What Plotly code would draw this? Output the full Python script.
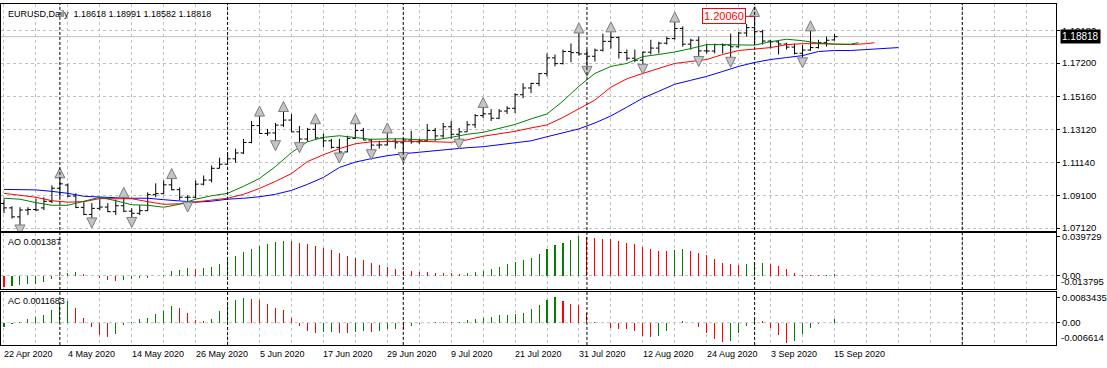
import plotly.graph_objects as go

W, H = 1107, 368

# ---------------- data ----------------
label_idx = [0, 8, 16, 24, 32, 40, 48, 56, 64, 72, 80, 88, 96, 104]
label_text = ["22 Apr 2020", "4 May 2020", "14 May 2020", "26 May 2020", "5 Jun 2020",
              "17 Jun 2020", "29 Jun 2020", "9 Jul 2020", "21 Jul 2020", "31 Jul 2020",
              "12 Aug 2020", "24 Aug 2020", "3 Sep 2020", "15 Sep 2020"]
grid_idx = list(range(0, 132, 4))
sep_idx = [7, 28, 50, 73, 94, 120]

price_ticks = [1.07120, 1.09100, 1.11140, 1.13120, 1.15160, 1.17200, 1.19180]

opens = [1.0862, 1.0835, 1.0780, 1.0822, 1.0825, 1.0835, 1.0875, 1.0955, 1.0975, 1.0907,
         1.0838, 1.0795, 1.0832, 1.0840, 1.0812, 1.0848, 1.0815, 1.0802, 1.0818, 1.0916,
         1.0922, 1.0976, 1.0946, 1.0900, 1.0900, 1.0980, 1.1005, 1.1077, 1.1102, 1.1135,
         1.1171, 1.1235, 1.1338, 1.1290, 1.1293, 1.1341, 1.1372, 1.1300, 1.1256, 1.1315,
         1.1263, 1.1245, 1.1205, 1.1177, 1.1260, 1.1308, 1.1250, 1.1219, 1.1220, 1.1243,
         1.1233, 1.1250, 1.1239, 1.1245, 1.1308, 1.1275, 1.1331, 1.1285, 1.1300, 1.1343,
         1.1399, 1.1410, 1.1383, 1.1427, 1.1444, 1.1527, 1.1568, 1.1596, 1.1656, 1.1752,
         1.1717, 1.1791, 1.1784, 1.1776, 1.1762, 1.1799, 1.1853, 1.1877, 1.1785, 1.1750,
         1.1738, 1.1787, 1.1812, 1.1842, 1.1870, 1.1932, 1.1836, 1.1860, 1.1795, 1.1794,
         1.1834, 1.1830, 1.1820, 1.1904, 1.1937, 1.1912, 1.1855, 1.1850, 1.1837, 1.1818,
         1.1780, 1.1800, 1.1815, 1.1845, 1.18618]
highs = [1.0888, 1.0845, 1.0839, 1.0839, 1.0892, 1.0900, 1.0973, 1.1019, 1.0985, 1.0924,
         1.0870, 1.0864, 1.0892, 1.0864, 1.0886, 1.0900, 1.0833, 1.0851, 1.0930, 1.0985,
         1.1003, 1.1015, 1.0960, 1.0912, 1.1003, 1.1033, 1.1094, 1.1142, 1.1173, 1.1197,
         1.1257, 1.1366, 1.1397, 1.1318, 1.1354, 1.1425, 1.1409, 1.1336, 1.1324, 1.1350,
         1.1290, 1.1257, 1.1257, 1.1276, 1.1350, 1.1324, 1.1257, 1.1245, 1.1294, 1.1260,
         1.1257, 1.1306, 1.1257, 1.1348, 1.1324, 1.1354, 1.1366, 1.1324, 1.1366, 1.1409,
         1.1450, 1.1439, 1.1439, 1.1457, 1.1536, 1.1597, 1.1600, 1.1660, 1.1779, 1.1773,
         1.1803, 1.1840, 1.1905, 1.1803, 1.1809, 1.1900, 1.1912, 1.1882, 1.1803, 1.1803,
         1.1791, 1.1863, 1.1851, 1.1882, 1.1972, 1.1945, 1.1869, 1.1882, 1.1839, 1.1839,
         1.1840, 1.1900, 1.1912, 1.1960, 1.2006, 1.1924, 1.1863, 1.1860, 1.1845, 1.1839,
         1.1833, 1.1918, 1.1863, 1.1882, 1.18991]
lows = [1.0803, 1.0770, 1.0730, 1.0791, 1.0815, 1.0822, 1.0864, 1.0900, 1.0900, 1.0833,
        1.0791, 1.0773, 1.0821, 1.0809, 1.0791, 1.0810, 1.0776, 1.0791, 1.0815, 1.0900,
        1.0918, 1.0942, 1.0882, 1.0870, 1.0894, 1.0973, 1.0991, 1.1076, 1.1100, 1.1112,
        1.1165, 1.1230, 1.1288, 1.1276, 1.1245, 1.1330, 1.1300, 1.1233, 1.1240, 1.1257,
        1.1205, 1.1197, 1.1170, 1.1175, 1.1257, 1.1250, 1.1190, 1.1197, 1.1215, 1.1197,
        1.1173, 1.1227, 1.1227, 1.1245, 1.1245, 1.1263, 1.1257, 1.1255, 1.1300, 1.1324,
        1.1385, 1.1366, 1.1378, 1.1409, 1.1415, 1.1506, 1.1536, 1.1579, 1.1639, 1.1700,
        1.1712, 1.1725, 1.1765, 1.1700, 1.1730, 1.1791, 1.1809, 1.1748, 1.1735, 1.1725,
        1.1712, 1.1773, 1.1779, 1.1833, 1.1863, 1.1821, 1.1803, 1.1760, 1.1779, 1.1779,
        1.1779, 1.1755, 1.1815, 1.1882, 1.1833, 1.1833, 1.1809, 1.1773, 1.1803, 1.1773,
        1.1752, 1.1795, 1.1809, 1.1821, 1.18582]
closes = [1.0835, 1.0780, 1.0822, 1.0825, 1.0822, 1.0875, 1.0955, 1.0982, 1.0907, 1.0838,
          1.0795, 1.0832, 1.0840, 1.0812, 1.0848, 1.0815, 1.0802, 1.0818, 1.0916, 1.0922,
          1.0976, 1.0946, 1.0900, 1.0900, 1.0980, 1.1005, 1.1077, 1.1102, 1.1135, 1.1171,
          1.1235, 1.1338, 1.1290, 1.1293, 1.1341, 1.1372, 1.1300, 1.1256, 1.1315, 1.1263,
          1.1245, 1.1205, 1.1177, 1.1260, 1.1308, 1.1250, 1.1219, 1.1220, 1.1243, 1.1233,
          1.1250, 1.1239, 1.1245, 1.1308, 1.1275, 1.1331, 1.1285, 1.1300, 1.1343, 1.1399,
          1.1410, 1.1383, 1.1427, 1.1444, 1.1527, 1.1568, 1.1596, 1.1656, 1.1752, 1.1717,
          1.1791, 1.1784, 1.1776, 1.1762, 1.1799, 1.1853, 1.1877, 1.1785, 1.1750, 1.1738,
          1.1787, 1.1812, 1.1842, 1.1870, 1.1932, 1.1836, 1.1860, 1.1795, 1.1794, 1.1834,
          1.1830, 1.1820, 1.1904, 1.1937, 1.1912, 1.1855, 1.1850, 1.1837, 1.1818, 1.1780,
          1.1800, 1.1815, 1.1845, 1.1860, 1.18818]

fractal_up_idx = [7, 15, 21, 32, 35, 39, 44, 48, 60, 72, 76, 84, 94, 101]
fractal_dn_idx = [2, 11, 16, 23, 34, 37, 42, 46, 50, 57, 73, 80, 87, 91, 100]

jaw_idx = list(range(0, 113, 2))
jaw = [1.0948, 1.0948, 1.0945, 1.0936, 1.0924, 1.0906, 1.0900, 1.0897, 1.0894, 1.0894,
       1.0885, 1.0876, 1.0870, 1.0876, 1.0888, 1.0894, 1.0903, 1.0918, 1.0942, 1.0979,
       1.1021, 1.1082, 1.1115, 1.1136, 1.1154, 1.1166, 1.1176, 1.1185, 1.1197, 1.1203,
       1.1209, 1.1221, 1.1230, 1.1245, 1.1270, 1.1294, 1.1318, 1.1354, 1.1397, 1.1451,
       1.1506, 1.1548, 1.1591, 1.1615, 1.1639, 1.1669, 1.1700, 1.1724, 1.1742, 1.1754,
       1.1766, 1.1791, 1.1797, 1.1797, 1.1803, 1.1809, 1.1815]
teeth_idx = list(range(0, 109, 2)) + [109]
teeth = [1.0924, 1.0912, 1.0900, 1.0879, 1.0870, 1.0873, 1.0892, 1.0891, 1.0891, 1.0873,
         1.0857, 1.0860, 1.0870, 1.0882, 1.0894, 1.0918, 1.0954, 1.0997, 1.1045, 1.1118,
         1.1160, 1.1197, 1.1227, 1.1239, 1.1242, 1.1242, 1.1242, 1.1239, 1.1236, 1.1251,
         1.1273, 1.1288, 1.1303, 1.1324, 1.1342, 1.1388, 1.1442, 1.1494, 1.1573, 1.1624,
         1.1657, 1.1688, 1.1718, 1.1730, 1.1742, 1.1773, 1.1797, 1.1806, 1.1815, 1.1833,
         1.1839, 1.1839, 1.1836, 1.1833, 1.1839, 1.1845]
lips_idx = list(range(0, 107, 2)) + [107]
lips = [1.0894, 1.0888, 1.0867, 1.0851, 1.0851, 1.0876, 1.0900, 1.0879, 1.0854, 1.0851,
        1.0839, 1.0857, 1.0888, 1.0909, 1.0924, 1.0967, 1.1015, 1.1088, 1.1173, 1.1239,
        1.1266, 1.1276, 1.1266, 1.1254, 1.1257, 1.1257, 1.1251, 1.1251, 1.1266, 1.1285,
        1.1297, 1.1321, 1.1345, 1.1379, 1.1409, 1.1488, 1.1579, 1.1657, 1.1700, 1.1718,
        1.1760, 1.1773, 1.1788, 1.1809, 1.1833, 1.1833, 1.1830, 1.1830, 1.1851, 1.1866,
        1.1857, 1.1842, 1.1836, 1.1836, 1.1845]

ao = [-0.0112, -0.0109, -0.0099, -0.0089, -0.0083, -0.0066, -0.0040, 0.0008, 0.0028, 0.0031,
      0.0017, -0.0006, -0.0026, -0.0048, -0.0052, -0.0042, -0.0033, -0.0026, -0.0020, -0.0006,
      0.0010, 0.0050, 0.0060, 0.0073, 0.0066, 0.0073, 0.0083, 0.0122, 0.0166, 0.0199,
      0.0238, 0.0265, 0.0298, 0.0324, 0.0338, 0.0354, 0.0350, 0.0335, 0.0315, 0.0296,
      0.0275, 0.0255, 0.0225, 0.0196, 0.0176, 0.0156, 0.0126, 0.0106, 0.0086, 0.0067,
      0.0047, 0.0042, 0.0037, 0.0034, 0.0030, 0.0027, 0.0022, 0.0017, 0.0022, 0.0032,
      0.0047, 0.0067, 0.0086, 0.0116, 0.0139, 0.0156, 0.0182, 0.0215, 0.0265, 0.0305,
      0.0331, 0.0364, 0.039729, 0.0394, 0.0376, 0.0373, 0.0370, 0.0354, 0.0331, 0.0321,
      0.0291, 0.0265, 0.0250, 0.0246, 0.0256, 0.0265, 0.0248, 0.0225, 0.0205, 0.0166,
      0.0132, 0.0116, 0.0106, 0.0116, 0.0124, 0.0127, 0.0116, 0.0093, 0.0066, 0.0026,
      0.0006, 0.0004, 0.0003, 0.0009, 0.001387]
ao_dir = ("r" "ggggggggg" "rrrrr" "ggggggggg" "r" "ggggggggggg"
          "rrrrrrrrrrrrrrrrrrrrrr" "ggggggggggggggg" "rrrrrrrrrrr" "gg"
          "rrrrrrr" "ggg" "rrrrrrr" "gg")

ac = [-0.0013, -0.0004, 0.0001, 0.0012, 0.0019, 0.0025, 0.0041, 0.0065, 0.0070, 0.0049,
      0.0017, -0.0013, -0.0040, -0.0048, -0.0038, -0.0008, 0.0003, 0.0012, 0.0016, 0.0030,
      0.0038, 0.0054, 0.0049, 0.0033, 0.0009, 0.0006, 0.0012, 0.0038, 0.0062, 0.0076,
      0.0082, 0.0078, 0.0076, 0.0062, 0.0049, 0.0041, 0.0017, -0.0011, -0.0028, -0.0033,
      -0.0031, -0.0030, -0.0033, -0.0035, -0.0030, -0.0028, -0.0031, -0.0027, -0.0022, -0.0019,
      -0.0020, -0.0010, -0.0004, 0.0000, 0.0002, 0.0003, 0.0002, 0.0003, 0.0008, 0.0012,
      0.0015, 0.0020, 0.0024, 0.0027, 0.0030, 0.0033, 0.0046, 0.0059, 0.0076, 0.0083435,
      0.0070, 0.0062, 0.0058, 0.0032, 0.0003, -0.0001, -0.0018, -0.0019, -0.0021, -0.0027,
      -0.0045, -0.0048, -0.0045, -0.0027, -0.0001, 0.0006, 0.0000, -0.0013, -0.0033, -0.0053,
      -0.0062, -0.0059, -0.0035, -0.0011, 0.0012, 0.0006, -0.0018, -0.0042, -0.006614, -0.0059,
      -0.0036, -0.0018, -0.0003, -0.0001, 0.0011683]
ac_dir = ("ggggggggg" "rrrrr" "gggggggg" "rrrr" "ggggg" "rrrrrrrrr" "gg" "rr" "gg" "r"
          "ggg" "r" "ggggg" "r" "ggggggggggggg" "rrrrrrrrrrrr" "gggg" "rrrrr" "gggg"
          "rrrr" "gggggg")

ao_max, ao_min = 0.039729, -0.013795
ac_max, ac_min = 0.0083435, -0.006614
high_label = 1.20060
symbol, timeframe = "EURUSD", "Daily"

# ---------------- geometry / style ----------------
FONT = "Liberation Sans"
GRID = "#c0c0c0"
GREEN, RED = "#008000", "#ff0000"
PLOT_R = 1057


def fy(py):
    return 1 - py / H


main_dom = [fy(231.5), fy(2)]
ao_dom = [fy(290.3), fy(233.3)]
ac_dom = [fy(346.7), fy(293.3)]
xdom = [0, PLOT_R / W]
xr = [-0.375, 131.75]
main_range = [1.06938, 1.20816]
ao_range = [-0.01380, 0.04340]
ac_range = [-0.00731, 0.01008]

idx = list(range(len(closes)))
colmap = {"g": GREEN, "r": RED}

fig = go.Figure()

fig.add_trace(go.Ohlc(x=idx, open=opens, high=highs, low=lows, close=closes,
                      increasing=dict(line=dict(color="black", width=1)),
                      decreasing=dict(line=dict(color="black", width=1)),
                      tickwidth=0.375, xaxis="x", yaxis="y", hoverinfo="skip"))

fig.add_trace(go.Scatter(x=jaw_idx, y=jaw, mode="lines", line=dict(color="#0000ff", width=1),
                         xaxis="x", yaxis="y", hoverinfo="skip"))
fig.add_trace(go.Scatter(x=teeth_idx, y=teeth, mode="lines", line=dict(color="#ff0000", width=1),
                         xaxis="x", yaxis="y", hoverinfo="skip"))
fig.add_trace(go.Scatter(x=lips_idx, y=lips, mode="lines", line=dict(color="#008000", width=1),
                         xaxis="x", yaxis="y", hoverinfo="skip"))

px_price = (main_range[1] - main_range[0]) / (231.5 - 2)
off = 10 * px_price
fr_marker = dict(size=10, color="#c4c4c4", line=dict(color="#7c7c7c", width=1))
fig.add_trace(go.Scatter(x=fractal_up_idx, y=[highs[i] + off for i in fractal_up_idx],
                         mode="markers", marker=dict(symbol="arrow-up", **fr_marker),
                         xaxis="x", yaxis="y", hoverinfo="skip"))
fig.add_trace(go.Scatter(x=fractal_dn_idx, y=[lows[i] - off for i in fractal_dn_idx],
                         mode="markers", marker=dict(symbol="arrow-down", **fr_marker),
                         xaxis="x", yaxis="y", hoverinfo="skip"))

fig.add_trace(go.Bar(x=idx, y=ao, width=0.13, marker=dict(color=[colmap[c] for c in ao_dir],
                                                          line=dict(width=0)),
                     xaxis="x2", yaxis="y2", hoverinfo="skip"))
fig.add_trace(go.Bar(x=idx, y=ac, width=0.13, marker=dict(color=[colmap[c] for c in ac_dir],
                                                          line=dict(width=0)),
                     xaxis="x3", yaxis="y3", hoverinfo="skip"))

xcommon = dict(domain=xdom, range=xr, tickvals=grid_idx, showticklabels=False, ticks="",
               showgrid=True, gridcolor=GRID, griddash="3px,3px", gridwidth=1,
               showline=True, mirror=True, linecolor="black", linewidth=1, zeroline=False,
               fixedrange=True)
tickfont = dict(family=FONT, size=9.5, color="black")
ycommon = dict(side="right", showline=True, mirror=True, linecolor="black", linewidth=1,
               ticks="outside", ticklen=3, tickcolor="black", zeroline=False,
               tickfont=tickfont, fixedrange=True)

fig.update_layout(
    width=W, height=H, margin=dict(l=0, r=0, t=0, b=0),
    paper_bgcolor="white", plot_bgcolor="white", showlegend=False,
    bargap=0,
    xaxis=dict(anchor="y", rangeslider=dict(visible=False), **xcommon),
    xaxis2=dict(anchor="y2", **xcommon),
    xaxis3=dict(anchor="y3", **xcommon),
    yaxis=dict(domain=main_dom, range=main_range, tickvals=price_ticks,
               ticktext=[f"{v:.5f}" for v in price_ticks], showgrid=True, gridcolor=GRID,
               griddash="3px,3px", anchor="x", **ycommon),
    yaxis2=dict(domain=ao_dom, range=ao_range, tickvals=[ao_max, 0],
                ticktext=[f"{ao_max:.6f}", "0.00"], showgrid=False, anchor="x2", **ycommon),
    yaxis3=dict(domain=ac_dom, range=ac_range, tickvals=[ac_max, 0],
                ticktext=[f"{ac_max:.7f}", "0.00"], showgrid=False, anchor="x3", **ycommon),
)

shapes = []
for yref in ("y2", "y3"):
    shapes.append(dict(type="line", xref="paper", yref=yref, x0=xdom[0], x1=xdom[1], y0=0, y1=0,
                       line=dict(color=GRID, width=1, dash="3px,3px"), layer="below"))
shapes.append(dict(type="line", xref="paper", yref="y", x0=xdom[0], x1=xdom[1],
                   y0=closes[-1], y1=closes[-1], line=dict(color="#c0c0c0", width=1),
                   layer="below"))
for s in sep_idx:
    shapes.append(dict(type="line", xref="x", yref="paper", x0=s, x1=s, y0=ac_dom[0], y1=main_dom[1],
                       line=dict(color="black", width=1, dash="3px,2px")))
fig.update_layout(shapes=shapes)

small = dict(family=FONT, size=9, color="black")
ann = []
hdr = f"{symbol},{timeframe}  {opens[-1]:.5f} {highs[-1]:.5f} {lows[-1]:.5f} {closes[-1]:.5f}"
ann.append(dict(text=hdr, xref="paper", yref="paper", x=5 / W, y=fy(12), xanchor="left",
                yanchor="middle", showarrow=False, font=small))
ann.append(dict(text=f"AO {ao[-1]:.6f}", xref="paper", yref="paper", x=5 / W, y=fy(242.5),
                xanchor="left", yanchor="middle", showarrow=False, font=small))
ann.append(dict(text=f"AC {ac[-1]:.7f}", xref="paper", yref="paper", x=5 / W, y=fy(302),
                xanchor="left", yanchor="middle", showarrow=False, font=small))
for i, t in zip(label_idx, label_text):
    ann.append(dict(text=t, xref="x3", yref="paper", x=i, y=fy(356), xanchor="left",
                    yanchor="middle", xshift=-2, showarrow=False, font=small))
ann.append(dict(text=f"{ao_min:.6f}", xref="paper", yref="paper", x=(PLOT_R + 3) / W, y=ao_dom[0],
                xanchor="left", yanchor="bottom", showarrow=False, font=tickfont))
ann.append(dict(text=f"{ac_min:.6f}", xref="paper", yref="paper", x=(PLOT_R + 3) / W, y=ac_dom[0],
                xanchor="left", yanchor="bottom", showarrow=False, font=tickfont))
ann.append(dict(text=f"{closes[-1]:.5f}", xref="paper", yref="y", x=(PLOT_R + 4) / W, y=closes[-1],
                xanchor="left", yanchor="middle", showarrow=False, bgcolor="black",
                font=dict(family=FONT, size=10, color="white"), borderpad=1))
hi_i = highs.index(max(highs))
ann.append(dict(text=f"{high_label:.5f}", xref="x", yref="y", x=hi_i, y=high_label,
                showarrow=True, arrowhead=0, arrowcolor=RED, arrowwidth=1, ax=-31, ay=0,
                bgcolor="white", bordercolor=RED, borderwidth=1, borderpad=1,
                font=dict(family=FONT, size=11, color=RED)))
fig.update_layout(annotations=ann)

fig.write_html("out.html", config={"displayModeBar": False, "staticPlot": True},
               post_script="document.body.style.margin='0px';")
